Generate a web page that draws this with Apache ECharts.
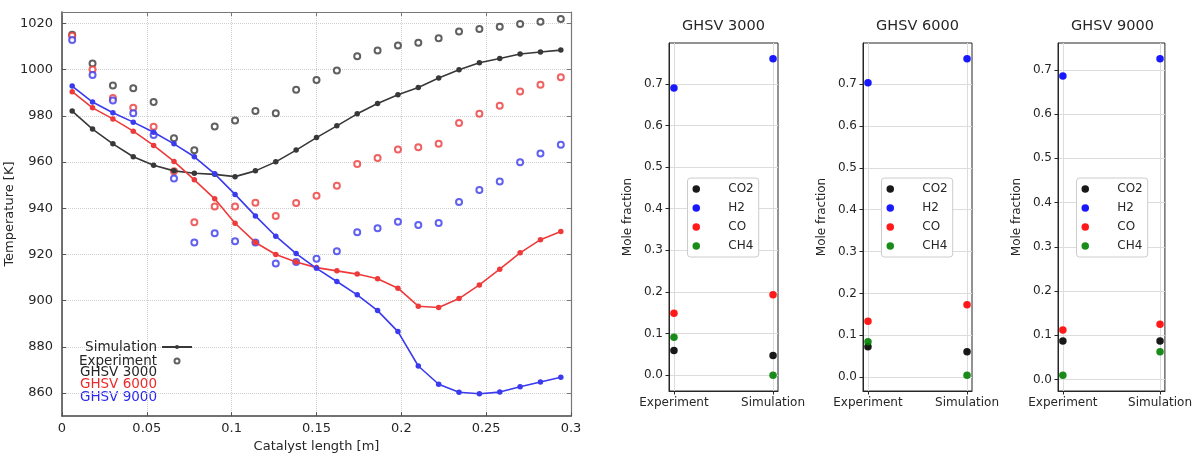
<!DOCTYPE html>
<html>
<head>
<meta charset="utf-8">
<script src="https://cdn.jsdelivr.net/npm/echarts@6/dist/echarts.min.js"></script>
<style>
  html, body { margin: 0; padding: 0; background: #fff; }
  #main { width: 1195px; height: 458px; }
</style>
</head>
<body>
<div id="main"></div>
<script>
// catalyst length positions [m]
var xPos = [0.006, 0.018, 0.030, 0.042, 0.054, 0.066, 0.078, 0.090, 0.102, 0.114, 0.126, 0.138, 0.150,
            0.162, 0.174, 0.186, 0.198, 0.210, 0.222, 0.234, 0.246, 0.258, 0.270, 0.282, 0.294];

// temperatures [K]
var sim3000 = [982.1, 974.3, 967.9, 962.3, 958.6, 956.2, 955.2, 954.7, 953.7, 956.2, 960.1, 965.2, 970.6,
               975.7, 980.9, 985.4, 989.2, 992.3, 996.4, 1000.0, 1003.0, 1004.9, 1006.8, 1007.7, 1008.5];
var exp3000 = [1015.2, 1002.7, 993.2, 992.0, 986.0, 970.3, 965.1, 975.4, 978.0, 982.1, 981.1, 991.3, 995.6,
               999.7, 1005.8, 1008.3, 1010.5, 1011.7, 1013.6, 1016.6, 1017.6, 1018.6, 1019.8, 1020.8, 1022.0];
var sim6000 = [990.5, 983.5, 978.7, 973.4, 967.2, 960.3, 952.3, 944.1, 933.5, 925.2, 920.0, 916.7, 914.3,
               912.9, 911.5, 909.5, 905.4, 897.6, 897.0, 900.9, 906.8, 913.6, 920.7, 926.4, 929.9];
var exp6000 = [1014.7, 1000.1, 987.8, 983.5, 975.3, 956.0, 933.9, 940.8, 940.8, 942.4, 936.7, 942.3, 945.4,
               949.8, 959.2, 961.8, 965.4, 966.4, 967.9, 976.9, 980.9, 984.4, 990.6, 993.5, 996.7];
var sim9000 = [992.9, 986.0, 981.4, 977.3, 972.9, 967.9, 962.3, 954.9, 946.0, 936.7, 927.9, 920.4, 914.0,
               908.3, 902.5, 895.7, 886.6, 871.7, 863.8, 860.3, 859.7, 860.4, 862.7, 864.8, 866.8];
var exp9000 = [1012.9, 997.7, 986.7, 981.2, 971.7, 952.9, 925.2, 929.2, 925.7, 925.2, 916.1, 916.7, 918.1,
               921.4, 929.6, 931.3, 934.2, 932.8, 933.6, 942.7, 947.9, 951.6, 959.9, 963.7, 967.5];

var xTicks = [0, 0.05, 0.1, 0.15, 0.2, 0.25, 0.3];
var yTicks = [860, 880, 900, 920, 940, 960, 980, 1000, 1020];
var ghsvNames = ['GHSV 3000', 'GHSV 6000', 'GHSV 9000'];

// mole fractions per panel: [experiment, simulation]
var categories = ['Experiment', 'Simulation'];
var species = ['CO2', 'H2', 'CO', 'CH4'];
var co2Frac = [[0.059, 0.047], [0.073, 0.061], [0.087, 0.087]];
var h2Frac  = [[0.690, 0.760], [0.703, 0.760], [0.686, 0.725]];
var coFrac  = [[0.149, 0.193], [0.134, 0.173], [0.112, 0.125]];
var ch4Frac = [[0.091, 0.000], [0.085, 0.005], [0.010, 0.063]];
var fracTicks = [0, 0.1, 0.2, 0.3, 0.4, 0.5, 0.6, 0.7];

var FONT = 'DejaVu Sans';
var TXT = '#262626';
var ghsvColors = ['#383838', '#ee3a3a', '#3a3aee'];
var speciesColors = ['#000000', '#0000ff', '#ff0000', '#008000'];
var panelLeft = [669, 863, 1058];
var PW = 109;

function pairs(xs, ys) {
  return xs.map(function (x, i) { return [x, ys[i]]; });
}

var chart = echarts.init(document.getElementById('main'), null, { renderer: 'canvas' });

var grids = [{ left: 62, top: 12, width: 509, height: 410, show: false }];
var xAxes = [
  {
    type: 'value', gridIndex: 0, min: 0, max: 0.3, position: 'bottom',
    name: 'Catalyst length [m]', nameLocation: 'middle', nameGap: 21,
    nameTextStyle: { fontFamily: FONT, fontSize: 13, color: TXT },
    axisLine: { onZero: false, lineStyle: { color: '#444', width: 1.5 } },
    axisTick: { show: true, inside: true, length: 4, customValues: xTicks, lineStyle: { color: '#555' } },
    axisLabel: { customValues: xTicks, fontFamily: FONT, fontSize: 13, color: TXT, margin: 6 },
    splitLine: { show: true, lineStyle: { color: '#cfcfcf', type: 'dotted' } }
  },
  {
    type: 'value', gridIndex: 0, min: 0, max: 0.3, position: 'top',
    axisLine: { onZero: false, lineStyle: { color: '#777', width: 1.2 } },
    axisTick: { show: true, inside: true, length: 4, customValues: xTicks, lineStyle: { color: '#777' } },
    axisLabel: { show: false }, splitLine: { show: false }
  }
];
var yAxes = [
  {
    type: 'value', gridIndex: 0, min: 850, max: 1025, position: 'left',
    name: 'Temperature [K]', nameLocation: 'middle', nameGap: 39,
    nameTextStyle: { fontFamily: FONT, fontSize: 13, color: TXT },
    axisLine: { show: true, onZero: false, lineStyle: { color: '#444', width: 1.5 } },
    axisTick: { show: true, inside: true, length: 4, customValues: yTicks, lineStyle: { color: '#555' } },
    axisLabel: { customValues: yTicks, formatter: function (v) { return String(v); },
                 fontFamily: FONT, fontSize: 13, color: TXT, margin: 9 },
    splitLine: { show: true, lineStyle: { color: '#cfcfcf', type: 'dotted' } }
  },
  {
    type: 'value', gridIndex: 0, min: 850, max: 1025, position: 'right',
    axisLine: { show: true, onZero: false, lineStyle: { color: '#777', width: 1.2 } },
    axisTick: { show: true, inside: true, length: 4, customValues: yTicks, lineStyle: { color: '#777' } },
    axisLabel: { show: false }, splitLine: { show: false }
  }
];

var series = [];
var sims = [sim3000, sim6000, sim9000];
var exps = [exp3000, exp6000, exp9000];
for (var g = 0; g < 3; g++) {
  series.push({
    name: g === 0 ? 'Simulation' : 'Simulation ' + ghsvNames[g],
    type: 'line', xAxisIndex: 0, yAxisIndex: 0,
    data: pairs(xPos, sims[g]),
    symbol: 'circle', symbolSize: 5.5, showSymbol: true,
    lineStyle: { color: ghsvColors[g], width: 1.6 },
    itemStyle: { color: ghsvColors[g] },
    z: 3
  });
  series.push({
    name: g === 0 ? 'Experiment' : 'Experiment ' + ghsvNames[g],
    type: 'scatter', xAxisIndex: 0, yAxisIndex: 0,
    data: pairs(xPos, exps[g]),
    symbol: 'emptyCircle', symbolSize: 6,
    itemStyle: { color: ghsvColors[g], borderColor: ghsvColors[g], borderWidth: 1 },
    z: 2
  });
}

var fracs = [co2Frac, h2Frac, coFrac, ch4Frac];
var legends = [{
  data: ['Simulation', 'Experiment'],
  orient: 'vertical', align: 'right', right: 1002, top: 340,
  itemWidth: 30, itemHeight: 5, itemGap: 0, padding: 0,
  textStyle: { fontFamily: FONT, fontSize: 13.5, color: TXT, lineHeight: 12 }
}];
var graphics = [];
ghsvNames.forEach(function (n, i) {
  graphics.push({
    type: 'text',
    style: { text: n, x: 157, y: 372 + i * 12.5, align: 'right', verticalAlign: 'middle',
             fill: ['#262626', '#ee2a2a', '#2a2aee'][i], font: '13.5px "DejaVu Sans"' }
  });
});

for (var p = 0; p < 3; p++) {
  var gi = p + 1;      // grid index
  var ai = p + 2;      // axis index (grid 0 owns two x and two y axes)
  var all = [];
  fracs.forEach(function (f) { all.push(f[p][0], f[p][1]); });
  var lo = Math.min.apply(null, all), hi = Math.max.apply(null, all);
  var pad = (hi - lo) * 0.05;
  grids.push({ left: panelLeft[p], top: 43, width: PW, height: 348, show: true,
               borderColor: '#262626', borderWidth: 1 });
  xAxes.push({
    type: 'value', gridIndex: gi, min: -0.05, max: 1.05,
    axisLine: { onZero: false, lineStyle: { color: '#262626', width: 1 } },
    axisTick: { show: true, length: 3.5, customValues: [0, 1], lineStyle: { color: '#262626' } },
    axisLabel: { customValues: [0, 1], formatter: function (v) { return categories[Math.round(v)]; },
                 fontFamily: FONT, fontSize: 12, color: TXT, margin: 6 },
    splitLine: { show: true, lineStyle: { color: '#dcdcdc' } }
  });
  yAxes.push({
    type: 'value', gridIndex: gi, min: lo - pad, max: hi + pad,
    name: 'Mole fraction', nameLocation: 'middle', nameGap: 35,
    nameTextStyle: { fontFamily: FONT, fontSize: 12, color: TXT },
    axisLine: { show: true, onZero: false, lineStyle: { color: '#262626', width: 1 } },
    axisTick: { show: true, length: 3.5, customValues: fracTicks, lineStyle: { color: '#262626' } },
    axisLabel: { customValues: fracTicks, formatter: function (v) { return v.toFixed(1); },
                 fontFamily: FONT, fontSize: 12, color: TXT, margin: 6 },
    splitLine: { show: true, lineStyle: { color: '#dcdcdc' } }
  });
  species.forEach(function (s, k) {
    series.push({
      name: s, type: 'scatter', xAxisIndex: ai, yAxisIndex: ai,
      data: [[0, fracs[k][p][0]], [1, fracs[k][p][1]]],
      symbol: 'circle', symbolSize: 7.5,
      itemStyle: { color: speciesColors[k], opacity: 0.9 },
      z: 3
    });
  });
  legends.push({
    data: species, orient: 'vertical', left: panelLeft[p] + 18.5, top: 178,
    icon: 'circle', itemWidth: 26, itemHeight: 7.5, itemGap: 5,
    padding: [4, 5, 4, 5], borderColor: '#cccccc', borderWidth: 1, borderRadius: 3,
    backgroundColor: '#fff',
    textStyle: { fontFamily: FONT, fontSize: 12, color: TXT, lineHeight: 14, padding: [0, 0, 0, 14] }
  });
  graphics.push({
    type: 'text',
    style: { text: ghsvNames[p], x: panelLeft[p] + PW / 2, y: 26, align: 'center', verticalAlign: 'middle',
             fill: TXT, font: '14.5px "DejaVu Sans"' }
  });
}

chart.setOption({
  animation: false,
  backgroundColor: '#ffffff',
  textStyle: { fontFamily: FONT },
  grid: grids,
  xAxis: xAxes,
  yAxis: yAxes,
  legend: legends,
  graphic: graphics,
  series: series
});
</script>
</body>
</html>
